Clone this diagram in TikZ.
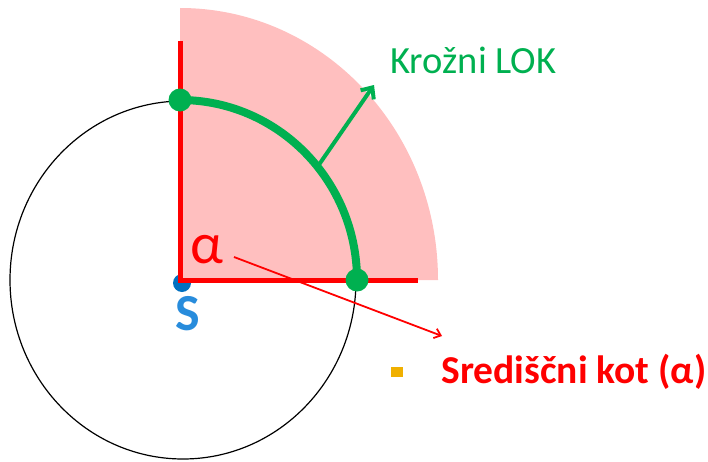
\documentclass[tikz,border=0pt]{standalone}
\usepackage{fontspec}
\setmainfont{Carlito}
\usetikzlibrary{arrows.meta, positioning}
\definecolor{arcgreen}{RGB}{0,176,80}
\definecolor{sectorpink}{RGB}{255,191,191}
\definecolor{centerblue}{RGB}{0,112,192}
\definecolor{letterblue}{RGB}{40,140,220}
\definecolor{bulletorange}{RGB}{240,176,0}

\begin{document}
\begin{tikzpicture}[
  x=1pt, y=1pt,
  radius/.style={draw=red, line width=5pt},
  bigdot/.style={circle, fill=arcgreen, inner sep=0pt, minimum size=23pt},
  greenarrow/.style={-{Straight Barb[length=9pt, width=16pt]}, line width=4pt, color=arcgreen},
  redarrow/.style={-{Straight Barb[length=6pt, width=10pt]}, line width=1.8pt, color=red}
]
  \useasboundingbox (-180,-181) rectangle (528,280);
  % centre and the sector
  \node[circle, fill=centerblue, inner sep=0pt, minimum size=18pt] (S) at (2,-3) {};
  \fill[sectorpink] (0,0) -- (258,0) arc[start angle=0, end angle=90, x radius=258, y radius=272] -- cycle;
  \draw[line width=1.2pt] (3,0) ellipse[x radius=173, y radius=179];
  \coordinate (c) at (0,0);
  \coordinate (top) at (0,239);
  \coordinate (right) at (238,0);
  \draw[radius] (top) -- (c) -- (right);
  % the arc
  \draw[arcgreen, line width=8pt] (0,180) arc[start angle=90, end angle=0, x radius=177, y radius=180];
  \node[bigdot] (a) at (0,180) {};
  \node[bigdot] (b) at (177,0) {};
  \coordinate (m) at (39:177 and 180);
  \coordinate (mtip) at (194,195);
  \draw[greenarrow] (m) -- (mtip);
  \node[anchor=base west, font=\fontsize{38.5}{42}\selectfont, text=arcgreen] (lok) at (207,207) {Krožni LOK};
  % the angle
  \node[font=\fontsize{58}{60}\selectfont, text=red, inner sep=0pt] (alpha) at (27,30) {α};
  \node[font=\bfseries\fontsize{52}{56}\selectfont, text=letterblue, inner sep=0pt] (Slabel) at (8,-34) {S};
  \coordinate (astart) at (54,23);
  \coordinate (atip) at (262,-56);
  \draw[redarrow] (astart) -- (atip);
  \node[fill=bulletorange, inner sep=0pt, minimum width=12pt, minimum height=10pt] (bullet) at (217,-92) {};
  \node[anchor=base west, font=\bfseries\fontsize{39.5}{43}\selectfont, text=red] (kot) at (258,-103) {Središčni kot (α)};
\end{tikzpicture}
\end{document}
